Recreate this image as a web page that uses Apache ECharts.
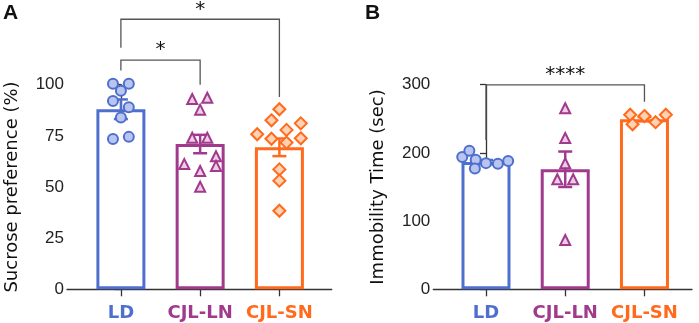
<!DOCTYPE html>
<html>
<head>
<meta charset="utf-8">
<script src="https://cdn.jsdelivr.net/npm/echarts@6/dist/echarts.min.js"></script>
<style>
  html, body { margin: 0; padding: 0; background: #fff; }
  #chart { width: 699px; height: 323px; }
</style>
</head>
<body>
<div id="chart"></div>
<script>
const categories = ['LD', 'CJL-LN', 'CJL-SN']

// A: sucrose preference (%)
const sucroseMean = [88, 71, 69.4]
const sucroseSem = [4.8, 4.5, 4.3]
const sucroseLD = [100.5, 100.5, 97, 92, 89, 84, 73.5, 74.5]
const sucroseLDJitter = [-0.1, 0.1, 0, -0.1, 0.1, 0, -0.1, 0.1]
const sucroseLN = [93, 93.6, 87.8, 74.1, 74.1, 61.2, 65, 60.3, 57.8, 50.1]
const sucroseLNJitter = [-0.1, 0.09, 0, -0.1, 0.09, -0.2, 0.2, 0.2, 0, 0]
const sucroseSN = [88, 82.6, 81.1, 77.9, 75.8, 73.6, 73.8, 71.7, 58.6, 53.1, 38.4]
const sucroseSNJitter = [0, -0.1, 0.27, 0.09, -0.28, -0.1, 0.27, 0.09, 0, 0, 0]

// B: immobility time (sec)
const immobMean = [186.6, 176, 249.4]
const immobSem = [3, 26, 3]
const immobLD = [194, 203, 190, 177, 185, 184, 188]
const immobLDJitter = [-0.3, -0.21, -0.13, -0.14, 0, 0.15, 0.28]
const immobLN = [265.4, 221.8, 184.7, 161.3, 161.3, 72.3]
const immobLNJitter = [0, 0, 0, -0.1, 0.1, 0]
const immobSN = [256, 242, 254, 245, 256]
const immobSNJitter = [-0.18, -0.15, 0, 0.14, 0.27]

// significance brackets: [x1, x2, barY, leftEndY, rightEndY]
const bracketsA = [[0, 1, 112, 107, 100], [0, 2, 132, 118, 94]]
const starsA = [[0.5, 118.6, '*'], [1, 138, '*']]
const bracketsB = [[0, 2, 299.6, 219, 275]]
const starsB = [[1, 318.6, '****']]

const colors = ['#4F6FCF', '#A13A8D', '#FF6A1C']
const fills = ['#B9C5EE', '#EDCDE4', '#FFD2B4']
const symbols = ['circle', 'triangle', 'diamond']
const symbolSizes = [10, 10, 12]

const chart = echarts.init(document.getElementById('chart'))

function points(values, jitter, idx) {
  return values.map((v, i) => [idx + jitter[i], v])
}

function errorBar(params, api) {
  const idx = api.value(0)
  const top = api.coord([idx, api.value(1) + api.value(2)])
  const bot = api.coord([idx, api.value(1) - api.value(2)])
  const w = 7
  const style = { stroke: colors[idx], lineWidth: 2.5 }
  return {
    type: 'group',
    children: [
      { type: 'line', shape: { x1: top[0], y1: top[1], x2: bot[0], y2: bot[1] }, style },
      { type: 'line', shape: { x1: top[0] - w, y1: top[1], x2: top[0] + w, y2: top[1] }, style },
      { type: 'line', shape: { x1: bot[0] - w, y1: bot[1], x2: bot[0] + w, y2: bot[1] }, style }
    ]
  }
}

function bracket(params, api) {
  const l = api.coord([api.value(0), api.value(2)])
  const r = api.coord([api.value(1), api.value(2)])
  const le = api.coord([api.value(0), api.value(3)])
  const re = api.coord([api.value(1), api.value(4)])
  return {
    type: 'polyline',
    shape: { points: [le, l, r, re] },
    style: { stroke: '#555', lineWidth: 1.3, fill: null }
  }
}

function star(params, api) {
  const p = api.coord([api.value(0), api.value(1)])
  return {
    type: 'text',
    style: {
      x: p[0], y: p[1] + 3,
      text: api.value(2),
      align: 'center', verticalAlign: 'middle',
      font: '20px "DejaVu Sans"', fill: '#111'
    }
  }
}

function xAxis(gridIndex, min, max) {
  return {
    type: 'value', gridIndex, min, max,
    splitLine: { show: false },
    axisLine: { lineStyle: { color: '#333', width: 1.3 } },
    axisTick: { customValues: [0, 1, 2], length: 7, lineStyle: { color: '#333', width: 1.3 } },
    axisLabel: {
      customValues: [0, 1, 2],
      margin: 15,
      formatter: v => `{c${v}|${categories[v]}}`,
      rich: {
        c0: { color: colors[0], fontFamily: 'DejaVu Sans', fontWeight: 'bold', fontSize: 18 },
        c1: { color: colors[1], fontFamily: 'DejaVu Sans', fontWeight: 'bold', fontSize: 18 },
        c2: { color: colors[2], fontFamily: 'DejaVu Sans', fontWeight: 'bold', fontSize: 18 }
      }
    }
  }
}

function yAxis(gridIndex, name, max, interval) {
  return {
    type: 'value', gridIndex, min: 0, max, interval,
    name, nameLocation: 'middle', nameGap: 46,
    nameTextStyle: { fontFamily: 'DejaVu Sans', fontSize: 18, color: '#111' },
    splitLine: { show: false },
    axisLine: { show: true, lineStyle: { color: '#333', width: 1.3 } },
    axisTick: { show: true, length: 6, lineStyle: { color: '#333', width: 1.3 } },
    axisLabel: { margin: 3, fontFamily: 'Liberation Sans', fontSize: 17, color: '#222' }
  }
}

function barSeries(ai, means) {
  return {
    type: 'bar', xAxisIndex: ai, yAxisIndex: ai, barWidth: 49, z: 1,
    data: means.map((m, i) => ({
      value: [i, m],
      itemStyle: { color: '#fff', borderColor: colors[i], borderWidth: 3 }
    }))
  }
}

function scatterSeries(ai, data, idx) {
  return {
    type: 'scatter', xAxisIndex: ai, yAxisIndex: ai, z: 3, clip: false,
    symbol: symbols[idx], symbolSize: symbolSizes[idx],
    itemStyle: { color: fills[idx], borderColor: colors[idx], borderWidth: 2, opacity: 1 },
    data
  }
}

const option = {
  animation: false,
  grid: [
    { left: 67, right: 367.3, top: 84.7, bottom: 33.7 },
    { left: 433.3, right: 7, top: 84.7, bottom: 33.7 }
  ],
  xAxis: [xAxis(0, -0.68, 2.66), xAxis(1, -0.665, 2.6)],
  yAxis: [
    yAxis(0, 'Sucrose preference (%)', 100, 25),
    yAxis(1, 'Immobility Time (sec)', 300, 100)
  ],
  graphic: [
    { type: 'text', left: 3, top: 3, style: { text: 'A', font: 'bold 21px "Liberation Sans"', fill: '#111' } },
    { type: 'text', left: 365, top: 3, style: { text: 'B', font: 'bold 21px "Liberation Sans"', fill: '#111' } }
  ],
  series: [
    barSeries(0, sucroseMean),
    {
      type: 'custom', xAxisIndex: 0, yAxisIndex: 0, z: 2, renderItem: errorBar,
      data: sucroseMean.map((m, i) => [i, m, sucroseSem[i]])
    },
    scatterSeries(0, points(sucroseLD, sucroseLDJitter, 0), 0),
    scatterSeries(0, points(sucroseLN, sucroseLNJitter, 1), 1),
    scatterSeries(0, points(sucroseSN, sucroseSNJitter, 2), 2),
    { type: 'custom', xAxisIndex: 0, yAxisIndex: 0, clip: false, renderItem: bracket, data: bracketsA },
    { type: 'custom', xAxisIndex: 0, yAxisIndex: 0, clip: false, renderItem: star, data: starsA },

    barSeries(1, immobMean),
    {
      type: 'custom', xAxisIndex: 1, yAxisIndex: 1, z: 2, renderItem: errorBar,
      data: immobMean.map((m, i) => [i, m, immobSem[i]])
    },
    scatterSeries(1, points(immobLD, immobLDJitter, 0), 0),
    scatterSeries(1, points(immobLN, immobLNJitter, 1), 1),
    scatterSeries(1, points(immobSN, immobSNJitter, 2), 2),
    { type: 'custom', xAxisIndex: 1, yAxisIndex: 1, clip: false, renderItem: bracket, data: bracketsB },
    { type: 'custom', xAxisIndex: 1, yAxisIndex: 1, clip: false, renderItem: star, data: starsB }
  ]
}

chart.setOption(option)
</script>
</body>
</html>
